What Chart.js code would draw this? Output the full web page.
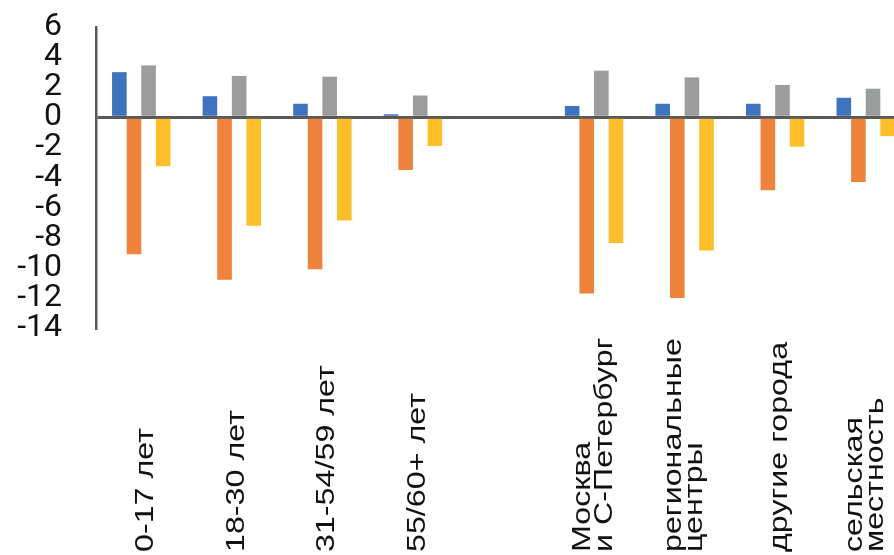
<!DOCTYPE html>
<html>
<head>
<meta charset="utf-8">
<script src="https://cdn.jsdelivr.net/npm/chart.js@4.4.1/dist/chart.umd.min.js"></script>
<style>
  html, body { margin: 0; padding: 0; background: #fff; overflow: hidden; }
  #wrap { width: 911px; height: 555px; }
</style>
</head>
<body>
<div id="wrap"><canvas id="chart" width="911" height="555"></canvas></div>
<script>
const categories = [
    ["0-17 лет"],
    ["18-30 лет"],
    ["31-54/59 лет"],
    ["55/60+ лет"],
    [""],
    ["Москва", "и С-Петербург"],
    ["региональные", "центры"],
    ["другие города"],
    ["сельская", "местность"],
];
const blueValues = [3.0, 1.4, 0.9, 0.2, null, 0.75, 0.9, 0.9, 1.3];
const orangeValues = [-9.1, -10.8, -10.1, -3.5, null, -11.7, -12.0, -4.85, -4.3];
const grayValues = [3.45, 2.75, 2.7, 1.45, null, 3.1, 2.65, 2.15, 1.9];
const yellowValues = [-3.25, -7.2, -6.85, -1.9, null, -8.35, -8.85, -1.95, -1.25];
const yTicks = [-14, -12, -10, -8, -6, -4, -2, 0, 2, 4, 6];

const axisColor = "#595959";

// rotated labels start at the bottom edge, as in the original
const bottomLabels = {
    id: "bottomLabels",
    afterDraw(chart) {
        const ctx = chart.ctx;
        const xScale = chart.scales.x;
        const lh = 21.5;
        ctx.save();
        ctx.font = "25px 'Liberation Sans', Arial, sans-serif";
        ctx.fillStyle = "#111";
        ctx.textAlign = "left";
        ctx.textBaseline = "middle";
        categories.forEach((lines, i) => {
            const x = xScale.getPixelForValue(i) + (lines.length > 1 ? 0 : 5);
            ctx.save();
            ctx.translate(x, 552);
            ctx.rotate(-Math.PI / 2);
            ctx.scale(1.29, 1);
            lines.forEach((line, j) => {
                ctx.fillText(line, 0, (j - (lines.length - 1) / 2) * lh);
            });
            ctx.restore();
        });
        ctx.restore();
    }
};

new Chart(document.getElementById("chart"), {
    type: "bar",
    data: {
        labels: categories.map(c => c.join(" ")),
        datasets: [
            { data: blueValues, backgroundColor: "#3e73be" },
            { data: orangeValues, backgroundColor: "#f0833c" },
            { data: grayValues, backgroundColor: "#9a9d9c" },
            { data: yellowValues, backgroundColor: "#fdbe29" },
        ],
    },
    options: {
        responsive: false,
        animation: false,
        layout: { padding: { top: 27, left: 0, right: 0, bottom: 0 } },
        datasets: {
            bar: { categoryPercentage: 0.645, barPercentage: 1.0, borderWidth: 0 }
        },
        plugins: {
            legend: { display: false },
            tooltip: { enabled: false },
        },
        scales: {
            x: {
                grid: { display: false },
                border: { display: false },
                ticks: { display: false },
                afterFit: (scale) => { scale.height = 227; },
            },
            y: {
                min: -14,
                max: 6,
                z: 1,
                afterFit: (scale) => {
                    scale.width = 96;
                    scale.paddingTop = 0;
                    scale.paddingBottom = 0;
                },
                afterBuildTicks: (scale) => {
                    scale.ticks = yTicks.map(v => ({ value: v }));
                },
                grid: {
                    drawTicks: false,
                    lineWidth: 3,
                    color: (c) => (c.tick && c.tick.value === 0 ? axisColor : "rgba(0,0,0,0)"),
                },
                border: { display: true, color: axisColor, width: 2.5 },
                ticks: {
                    autoSkip: false,
                    padding: 34,
                    color: "#111",
                    font: { family: "Roboto", size: 32 },
                },
            },
        },
    },
    plugins: [bottomLabels],
});
</script>
</body>
</html>
